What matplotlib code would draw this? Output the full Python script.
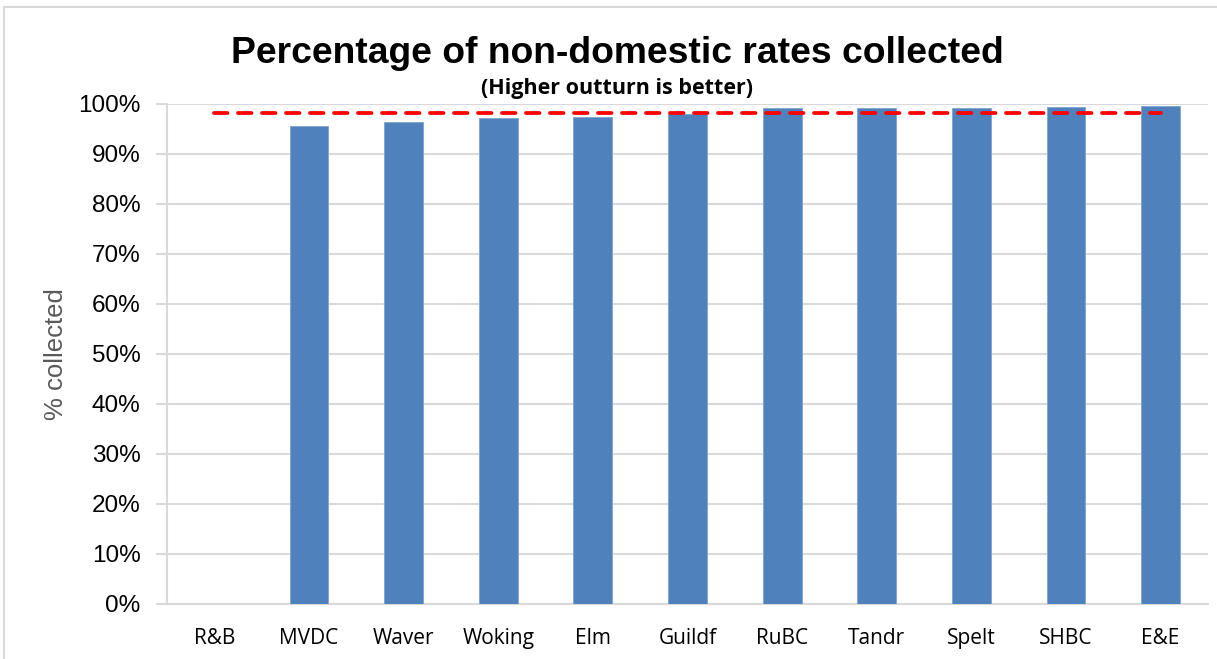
import matplotlib
matplotlib.use("Agg")
import matplotlib.pyplot as plt
from matplotlib.patches import Rectangle
from matplotlib.ticker import FuncFormatter

categories = ["R&B", "MVDC", "Waver", "Woking", "Elm", "Guildf", "RuBC", "Tandr", "Spelt", "SHBC", "E&E"]
collected = [None, 95.5, 96.4, 97.1, 97.4, 97.9, 99.1, 99.1, 99.1, 99.4, 99.6]
target = [98.1] * len(categories)
y_ticks = list(range(0, 101, 10))

fig = plt.figure(figsize=(12.17, 6.59), dpi=100)
ax = fig.add_axes([167/1217, 1-604/659, (1208-167)/1217, (604-103.5)/659])

x = list(range(len(categories)))
bx = [i for i, v in zip(x, collected) if v is not None]
bv = [v for v in collected if v is not None]
ax.bar(bx, bv, width=0.41, color="#4f81bd", edgecolor="#7ea3d3", linewidth=0.6, zorder=3)
ax.plot(x, target, color="#ff0000", linestyle=(0, (3.6, 2.8)), linewidth=2.7,
        dash_capstyle="round", zorder=4)

ax.set_xlim(-0.5, len(categories) - 0.5)
ax.set_ylim(0, 100)
ax.set_yticks(y_ticks)
ax.yaxis.set_major_formatter(FuncFormatter(lambda v, p: f"{int(v)}%"))
ax.set_xticks(x)
ax.set_xticklabels(categories, fontfamily="Open Sans", fontsize=15)
for lbl in ax.get_yticklabels():
    lbl.set_fontfamily("Liberation Sans")
    lbl.set_fontsize(17.5)

ax.grid(axis="y", color="#d9d9d9", linewidth=1.5, zorder=0)
ax.tick_params(axis="y", length=8, width=1.5, color="#d9d9d9", pad=11)
ax.tick_params(axis="x", length=0, pad=17)
for s in ["top", "right"]:
    ax.spines[s].set_visible(False)
ax.spines["left"].set_color("#d9d9d9")
ax.spines["left"].set_linewidth(1.5)
ax.spines["bottom"].set_color("#d9d9d9")
ax.spines["bottom"].set_linewidth(1.5)
ax.set_axisbelow(True)

ax.set_ylabel("% collected", fontfamily="Liberation Sans", fontsize=18.5, color="#595959")
ax.yaxis.set_label_coords(-(167-68)/1041, 0.5)

fig.text(617/1217, 1-63/659, "Percentage of non-domestic rates collected",
         fontfamily="Liberation Sans", fontweight="bold", fontsize=26.8,
         ha="center", va="baseline")
fig.text(617/1217, 1-94/659, "(Higher outturn is better)",
         fontfamily="Open Sans", fontweight="bold", fontsize=15.5,
         ha="center", va="baseline")

fig.patches.append(Rectangle((4/1217, -0.1), 1.2, 1 - 7/659 + 0.1, transform=fig.transFigure,
                             fill=False, edgecolor="#d9d9d9", linewidth=1.5))

fig.savefig("out.png", dpi=100)
